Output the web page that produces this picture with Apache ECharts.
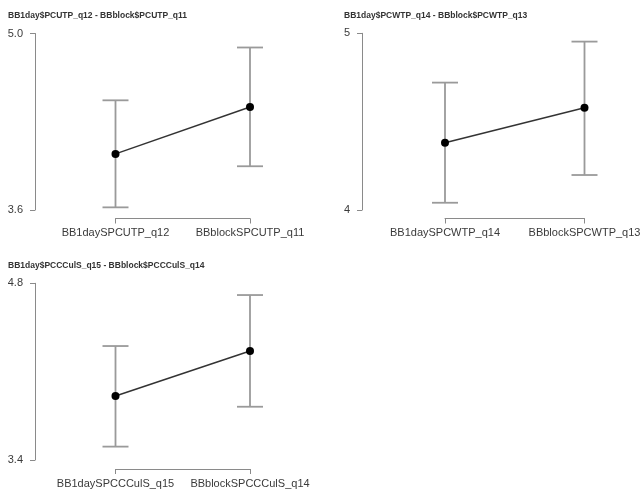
<!DOCTYPE html>
<html>
<head>
<meta charset="utf-8">
<script src="https://cdn.jsdelivr.net/npm/echarts@6/dist/echarts.min.js"></script>
<style>
  html, body { margin: 0; padding: 0; background: #fff; }
  #chart { width: 643px; height: 491px; }
</style>
</head>
<body>
<div id="chart"></div>
<script>
// Panel titles
const titles = [
  'BB1day$PCUTP_q12 - BBblock$PCUTP_q11',
  'BB1day$PCWTP_q14 - BBblock$PCWTP_q13',
  'BB1day$PCCCulS_q15 - BBblock$PCCCulS_q14'
];

// Category labels for each panel
const cats1 = ['BB1daySPCUTP_q12', 'BBblockSPCUTP_q11'];
const cats2 = ['BB1daySPCWTP_q14', 'BBblockSPCWTP_q13'];
const cats3 = ['BB1daySPCCCulS_q15', 'BBblockSPCCCulS_q14'];

// Means with lower / upper interval bounds
const mean1 = [4.045, 4.417];
const low1 = [3.621, 3.947];
const high1 = [4.470, 4.889];

const mean2 = [4.381, 4.579];
const low2 = [4.041, 4.198];
const high2 = [4.721, 4.953];

const mean3 = [3.907, 4.264];
const low3 = [3.506, 3.822];
const high3 = [4.303, 4.707];

// Y-axis ranges and tick labels
const yRange1 = [3.6, 5.0];
const yTicks1 = [3.6, 5.0];
const yRange2 = [4, 5];
const yTicks2 = [4, 5];
const yRange3 = [3.4, 4.8];
const yTicks3 = [3.4, 4.8];

const panels = [
  { cats: cats1, mean: mean1, low: low1, high: high1, range: yRange1, ticks: yTicks1, dec: 1,
    grid: { left: 115.5, top: 33.5, width: 134.5, height: 176.5 }, yOff: 80.5, xOff: 8.5,
    title: { left: 8, top: 11 } },
  { cats: cats2, mean: mean2, low: low2, high: high2, range: yRange2, ticks: yTicks2, dec: 0,
    grid: { left: 445, top: 33.3, width: 139.5, height: 176.7 }, yOff: 83, xOff: 8.5,
    title: { left: 344, top: 11 } },
  { cats: cats3, mean: mean3, low: low3, high: high3, range: yRange3, ticks: yTicks3, dec: 1,
    grid: { left: 115.5, top: 283.3, width: 134.5, height: 176.7 }, yOff: 80.5, xOff: 9,
    title: { left: 8, top: 261 } }
];

const axisGray = '#8a8a8a';
const textColor = '#3a3a3a';
const font = 'Liberation Sans, Arial, sans-serif';

const option = {
  backgroundColor: '#ffffff',
  animation: false,
  title: panels.map((p, i) => ({
    text: titles[i],
    left: p.title.left,
    top: p.title.top,
    padding: 0,
    textStyle: { fontSize: 8.5, fontWeight: 'bold', color: '#333', fontFamily: font }
  })),
  grid: panels.map(p => Object.assign({ outerBoundsMode: 'none', containLabel: false }, p.grid)),
  xAxis: panels.map((p, i) => ({
    type: 'category',
    gridIndex: i,
    data: p.cats,
    boundaryGap: false,
    position: 'bottom',
    offset: p.xOff,
    axisLine: { show: true, lineStyle: { color: axisGray, width: 1 } },
    axisTick: { show: true, length: 5, inside: false, alignWithLabel: true, lineStyle: { color: axisGray } },
    axisLabel: { show: true, margin: 9, fontSize: 11, color: textColor, fontFamily: font, interval: 0 },
    splitLine: { show: false }
  })),
  yAxis: panels.map((p, i) => ({
    type: 'value',
    gridIndex: i,
    min: p.range[0],
    max: p.range[1],
    offset: p.yOff,
    axisLine: { show: true, lineStyle: { color: axisGray, width: 1 } },
    axisTick: { show: true, length: 5, customValues: p.ticks, lineStyle: { color: axisGray } },
    axisLabel: {
      show: true, margin: 12, fontSize: 11, color: textColor, fontFamily: font,
      customValues: p.ticks,
      formatter: v => Number(v).toFixed(p.dec)
    },
    splitLine: { show: false }
  })),
  series: []
};

panels.forEach((p, i) => {
  // Interval bars with caps
  option.series.push({
    type: 'custom',
    xAxisIndex: i,
    yAxisIndex: i,
    z: 1,
    data: p.cats.map((c, k) => [k, p.low[k], p.high[k]]),
    renderItem: (params, api) => {
      const lo = api.coord([api.value(0), api.value(1)]);
      const hi = api.coord([api.value(0), api.value(2)]);
      const cap = 13;
      const style = { stroke: '#9a9a9a', lineWidth: 1.8 };
      return {
        type: 'group',
        children: [
          { type: 'line', shape: { x1: hi[0], y1: hi[1], x2: lo[0], y2: lo[1] }, style },
          { type: 'line', shape: { x1: hi[0] - cap, y1: hi[1], x2: hi[0] + cap, y2: hi[1] }, style },
          { type: 'line', shape: { x1: lo[0] - cap, y1: lo[1], x2: lo[0] + cap, y2: lo[1] }, style }
        ]
      };
    }
  });
  // Means joined by a line
  option.series.push({
    type: 'line',
    xAxisIndex: i,
    yAxisIndex: i,
    z: 3,
    data: p.mean,
    symbol: 'circle',
    symbolSize: 8,
    itemStyle: { color: '#000' },
    lineStyle: { color: '#333', width: 1.5 }
  });
});

const chart = echarts.init(document.getElementById('chart'), null, { renderer: 'canvas' });
chart.setOption(option);
</script>
</body>
</html>
